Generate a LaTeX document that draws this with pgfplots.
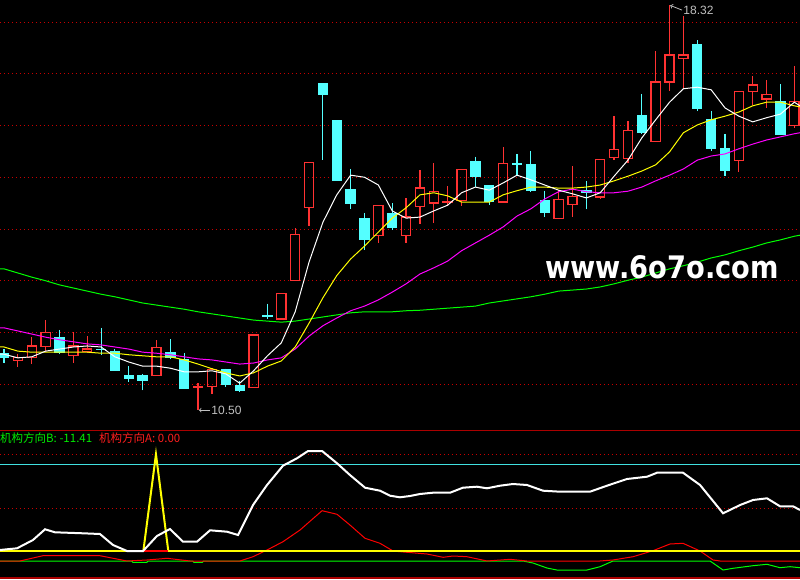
\documentclass[border=0pt]{standalone}
\usepackage{fontspec}
\setmainfont{Liberation Sans}
\newfontfamily\cjk{Noto Sans CJK SC}
\newfontfamily\wmfont[FakeStretch=0.88]{DejaVu Sans}
\usepackage{pgfplots}
\pgfplotsset{compat=1.18}
\usepgfplotslibrary{statistics}
\definecolor{kred}{RGB}{255,50,50}
\definecolor{kcyan}{RGB}{84,255,255}
\definecolor{mayel}{RGB}{255,255,0}
\definecolor{mamag}{RGB}{255,0,255}
\definecolor{magrn}{RGB}{0,255,0}
\definecolor{gridred}{RGB}{200,0,0}
\definecolor{sepred}{RGB}{170,0,0}
\definecolor{lcyan}{RGB}{64,224,224}
\definecolor{lgreen}{RGB}{0,235,0}
\definecolor{lred}{RGB}{255,30,30}
\definecolor{annot}{RGB}{192,192,192}
\newcommand{\kup}[5]{\addplot[draw=kred, fill=none, line width=1.25pt, boxplot/draw direction=y, boxplot prepared={draw position=#1, lower whisker=#4, lower quartile=#2, median=#2, upper quartile=#5, upper whisker=#3, box extend=0.66, whisker extend=0}] coordinates {};}
\newcommand{\kdn}[5]{\addplot[draw=kcyan, fill=kcyan, line width=1.1pt, boxplot/draw direction=y, boxplot prepared={draw position=#1, lower whisker=#4, lower quartile=#5, median=#5, upper quartile=#2, upper whisker=#3, box extend=0.67, whisker extend=0}] coordinates {};}
\begin{document}
\begin{tikzpicture}
\begin{axis}[at={(0pt,149pt)}, anchor=south west, scale only axis, width=800pt, height=430pt,
  xmin=-0.2885, xmax=57.41, ymin=10.116, ymax=18.425, boxplot/draw direction=y,
  axis background/.style={fill=black}, axis line style={draw=none}, ticks=none, clip=true]
\pgfplotsinvokeforeach{11,...,18}{\addplot[gridred, line width=0.8pt, dash pattern=on 1pt off 3pt] coordinates {(-0.29,#1) (57.41,#1)};}
% candles: index, open, high, low, close
\kdn{0}{11.60}{11.68}{11.41}{11.52}
\kup{1}{11.46}{11.59}{11.34}{11.52}
\kup{2}{11.52}{11.92}{11.39}{11.74}
\kup{3}{11.73}{12.24}{11.65}{12.00}
\kdn{4}{11.91}{12.05}{11.58}{11.61}
\kup{5}{11.56}{12.01}{11.42}{11.74}
\kup{6}{11.63}{11.93}{11.60}{11.68}
\kdn{7}{11.68}{12.09}{11.57}{11.67}
\kdn{8}{11.63}{11.68}{11.26}{11.26}
\kdn{9}{11.16}{11.35}{11.05}{11.11}
\kdn{10}{11.16}{11.20}{10.88}{11.07}
\kup{11}{11.17}{11.86}{11.17}{11.71}
\kdn{12}{11.62}{11.87}{11.48}{11.52}
\kdn{13}{11.48}{11.60}{10.91}{10.91}
\kup{14}{10.94}{11.02}{10.50}{10.96}
\kup{15}{10.95}{11.31}{10.81}{11.28}
\kdn{16}{11.28}{11.30}{10.95}{10.99}
\kdn{17}{10.98}{11.07}{10.85}{10.88}
\kup{18}{10.94}{11.95}{10.94}{11.95}
\kdn{19}{12.325}{12.56}{12.27}{12.315}
\kup{20}{12.26}{12.76}{12.26}{12.76}
\kup{21}{13.01}{14.01}{13.01}{13.90}
\kup{22}{14.42}{15.29}{14.06}{15.29}
\kdn{23}{16.82}{16.82}{15.34}{16.60}
\kdn{24}{16.09}{16.09}{14.93}{14.93}
\kdn{25}{14.77}{15.16}{14.39}{14.49}
\kdn{26}{14.21}{14.31}{13.60}{13.79}
\kup{27}{13.87}{14.46}{13.72}{14.46}
\kdn{28}{14.29}{14.50}{13.99}{14.03}
\kup{29}{13.87}{14.59}{13.73}{14.23}
\kup{30}{14.43}{15.14}{14.09}{14.79}
\kup{31}{14.50}{15.28}{14.11}{14.72}
\kup{32}{14.51}{14.83}{14.45}{14.53}
\kup{33}{14.55}{15.15}{14.44}{15.15}
\kdn{34}{15.31}{15.40}{14.82}{15.01}
\kdn{35}{14.83}{14.83}{14.46}{14.53}
\kup{36}{14.52}{15.59}{14.52}{15.26}
\kdn{37}{15.255}{15.45}{15.04}{15.245}
\kdn{38}{15.24}{15.51}{14.72}{14.74}
\kdn{39}{14.54}{14.74}{14.23}{14.32}
\kup{40}{14.21}{14.76}{14.21}{14.57}
\kup{41}{14.48}{15.22}{14.23}{14.63}
\kdn{42}{14.75}{14.93}{14.38}{14.71}
\kup{43}{14.62}{15.35}{14.57}{15.35}
\kup{44}{15.38}{16.18}{15.33}{15.54}
\kup{45}{15.36}{16.09}{15.27}{15.91}
\kdn{46}{16.20}{16.61}{15.84}{15.86}
\kup{47}{15.69}{17.43}{15.69}{16.84}
\kup{48}{16.84}{18.32}{16.67}{17.36}
\kup{49}{17.29}{18.12}{16.71}{17.36}
\kdn{50}{17.56}{17.65}{16.28}{16.32}
\kdn{51}{16.11}{16.28}{15.51}{15.55}
\kdn{52}{15.55}{15.84}{15.03}{15.14}
\kup{53}{15.32}{16.66}{15.10}{16.66}
\kup{54}{16.66}{16.95}{16.39}{16.78}
\kup{55}{16.51}{16.87}{16.33}{16.60}
\kdn{56}{16.47}{16.80}{15.82}{15.82}
\kup{57}{16.00}{17.15}{15.96}{16.47}
% moving averages
\addplot[magrn, line width=1pt] coordinates {(-0.29,13.23) (0,13.23) (1,13.15) (2,13.07) (3,13.00) (4,12.92) (5,12.86) (6,12.80) (7,12.74) (8,12.69) (9,12.63) (10,12.57) (11,12.53) (12,12.49) (13,12.45) (14,12.40) (15,12.36) (16,12.32) (17,12.28) (18,12.24) (19,12.22) (20,12.20) (21,12.22) (22,12.26) (23,12.30) (24,12.34) (25,12.38) (26,12.40) (27,12.40) (28,12.40) (29,12.42) (30,12.43) (31,12.45) (32,12.47) (33,12.49) (34,12.51) (35,12.57) (36,12.61) (37,12.65) (38,12.69) (39,12.74) (40,12.80) (41,12.82) (42,12.84) (43,12.88) (44,12.94) (45,13.01) (46,13.07) (47,13.15) (48,13.23) (49,13.29) (50,13.36) (51,13.44) (52,13.50) (53,13.58) (54,13.65) (55,13.73) (56,13.79) (57,13.86) (57.41,13.88)};
\addplot[mamag, line width=1pt] coordinates {(-0.29,12.09) (0,12.09) (1,12.03) (2,11.97) (3,11.91) (4,11.86) (5,11.82) (6,11.78) (7,11.76) (8,11.72) (9,11.68) (10,11.62) (11,11.60) (12,11.57) (13,11.53) (14,11.49) (15,11.47) (16,11.43) (17,11.39) (18,11.41) (19,11.47) (20,11.51) (21,11.68) (22,11.93) (23,12.13) (24,12.28) (25,12.42) (26,12.51) (27,12.63) (28,12.78) (29,12.94) (30,13.13) (31,13.25) (32,13.38) (33,13.58) (34,13.73) (35,13.88) (36,14.04) (37,14.25) (38,14.39) (39,14.58) (40,14.72) (41,14.77) (42,14.72) (43,14.70) (44,14.70) (45,14.73) (46,14.81) (47,14.93) (48,15.04) (49,15.16) (50,15.33) (51,15.41) (52,15.45) (53,15.55) (54,15.64) (55,15.72) (56,15.78) (57,15.84) (57.41,15.86)};
\addplot[mayel, line width=1pt] coordinates {(-0.29,11.72) (0,11.72) (1,11.64) (2,11.62) (3,11.62) (4,11.62) (5,11.62) (6,11.62) (7,11.60) (8,11.60) (9,11.57) (10,11.55) (11,11.53) (12,11.53) (13,11.47) (14,11.39) (15,11.30) (16,11.22) (17,11.16) (18,11.22) (19,11.35) (20,11.45) (21,11.72) (22,12.18) (23,12.67) (24,13.10) (25,13.42) (26,13.67) (27,13.94) (28,14.21) (29,14.41) (30,14.66) (31,14.70) (32,14.64) (33,14.52) (34,14.52) (35,14.52) (36,14.66) (37,14.74) (38,14.81) (39,14.81) (40,14.79) (41,14.79) (42,14.81) (43,14.85) (44,14.93) (45,15.02) (46,15.12) (47,15.24) (48,15.49) (49,15.86) (50,16.01) (51,16.11) (52,16.18) (53,16.26) (54,16.38) (55,16.45) (56,16.45) (57,16.38) (57.41,16.36)};
\addplot[white, line width=1pt] coordinates {(-0.29,11.58) (0,11.58) (1,11.51) (2,11.53) (3,11.64) (4,11.68) (5,11.72) (6,11.74) (7,11.72) (8,11.53) (9,11.43) (10,11.35) (11,11.35) (12,11.31) (13,11.24) (14,11.24) (15,11.26) (16,11.20) (17,11.02) (18,11.26) (19,11.55) (20,11.80) (21,12.40) (22,13.36) (23,14.13) (24,14.66) (25,15.04) (26,15.00) (27,14.85) (28,14.35) (29,14.21) (30,14.23) (31,14.35) (32,14.46) (33,14.70) (34,14.81) (35,14.75) (36,14.89) (37,15.04) (38,14.95) (39,14.85) (40,14.75) (41,14.68) (42,14.60) (43,14.70) (44,15.02) (45,15.33) (46,15.76) (47,16.11) (48,16.45) (49,16.71) (50,16.74) (51,16.69) (52,16.34) (53,16.18) (54,16.07) (55,16.15) (56,16.22) (57,16.45) (57.41,16.38)};
% annotations
\draw[annot, line width=0.8pt, <-] (axis cs:14.06,10.50) -- (axis cs:14.86,10.50) node[right, inner sep=1pt, font=\fontsize{12}{12}\selectfont, text=annot] {10.50};
\draw[annot, line width=0.8pt, <-] (axis cs:48.05,18.32) -- (axis cs:48.9,18.23) node[right, inner sep=1pt, font=\fontsize{12}{12}\selectfont, text=annot] {18.32};
\node[text=white, font=\wmfont\bfseries\fontsize{31}{31}\selectfont, inner sep=0pt] at (axis cs:47.46,13.27) {www.6o7o.com};
\end{axis}
\begin{axis}[at={(0pt,0pt)}, anchor=south west, scale only axis, width=800pt, height=149pt,
  xmin=-0.2885, xmax=57.41, ymin=-18, ymax=131,
  axis background/.style={fill=black}, axis line style={draw=none}, ticks=none, clip=true]
\addplot[gridred, line width=0.8pt, dash pattern=on 1pt off 3pt] coordinates {(-0.29,106.7) (57.41,106.7)};
\addplot[gridred, line width=0.8pt, dash pattern=on 1pt off 3pt] coordinates {(-0.29,52.7) (57.41,52.7)};
\addplot[sepred, line width=1.2pt] coordinates {(-0.29,130.3) (57.41,130.3)};
\addplot[sepred, line width=1.2pt] coordinates {(-0.29,-17) (57.41,-17)};
\addplot[lcyan, line width=1pt] coordinates {(-0.29,96.7) (57.41,96.7)};
\addplot[magrn, line width=1pt] coordinates {(-0.29,0) (9.2,0) (9.3,-1.3) (10.3,-1.3) (10.4,0) (13.6,0) (13.7,-1.3) (14.3,-1.3) (14.4,0) (37.43,0) (38.15,-2) (39.16,-7) (39.88,-9) (42.05,-9) (42.99,-5.7) (43.92,0) (50.92,0) (51.86,-9) (52.58,-7.3) (54.02,-4.7) (55.03,-3.3) (55.97,-6.7) (56.69,-5.7) (57.41,-6.7)};
\addplot[red, line width=1pt] coordinates {(-0.29,0) (1.15,0) (2.81,5.3) (6.92,5.3) (8.87,0) (10.31,1) (11.76,2.7) (13.42,0) (17.02,0) (17.96,4.3) (18.97,11) (20.12,19.3) (21.35,31) (22.94,50.3) (24.02,46.7) (24.95,36) (26.04,22.7) (27.12,17.7) (28.06,10) (28.56,9.3) (30.51,7) (31.67,3.7) (32.38,5) (33.39,4.3) (34.84,0) (36.49,1.7) (37.72,0) (42.98,0) (43.92,1) (45.37,4.3) (46.81,10.3) (48.03,17) (48.97,17.7) (50.20,10) (51.14,1) (51.64,0) (57.41,0)};
\addplot[mayel, line width=2pt] coordinates {(-0.29,10) (57.41,10)};
\addplot[mayel, line width=2pt] coordinates {(10.05,10) (10.96,106.7) (11.85,10)};
\addplot[red, line width=2pt] coordinates {(10.05,10) (11.85,10)};
\addplot[white, line width=2pt] coordinates {(-0.29,11) (0.94,12.7) (2.09,21) (2.96,31.7) (3.68,28.7) (5.70,27.7) (6.92,27) (7.86,16) (8.87,10) (10.03,10) (11.03,25) (11.97,32) (12.91,19.3) (13.92,19.3) (14.86,30.7) (16.08,29.3) (16.88,26) (17.96,56) (18.97,76) (20.12,95.3) (21.13,102.7) (21.93,110) (22.94,110) (24.02,97.7) (24.95,86) (26.04,73.3) (27.12,70.3) (27.84,65.3) (28.56,63.7) (29.28,65) (30.00,67) (30.94,68.3) (32.17,68.3) (33.10,73.3) (34.11,74.3) (34.84,72.7) (35.77,75.3) (36.71,77) (37.72,76) (38.87,70.3) (40.10,69.3) (42.26,69.3) (43.49,75.3) (44.93,82) (46.38,84.3) (47.10,88.3) (48.97,88.3) (50.20,76) (51.86,47.7) (53.09,56) (54.02,61) (55.03,62.7) (55.97,54.7) (56.91,54.7) (57.41,51)};
\node[anchor=base west, inner sep=0pt, text=lgreen, font=\cjk\fontsize{11.5}{12}\selectfont] at (axis cs:-0.29,118.5) {机构方向B: -11.41};
\node[anchor=base west, inner sep=0pt, text=lred, font=\cjk\fontsize{11.5}{12}\selectfont] at (axis cs:6.85,118.5) {机构方向A: 0.00};
\end{axis}
\end{tikzpicture}
\end{document}
